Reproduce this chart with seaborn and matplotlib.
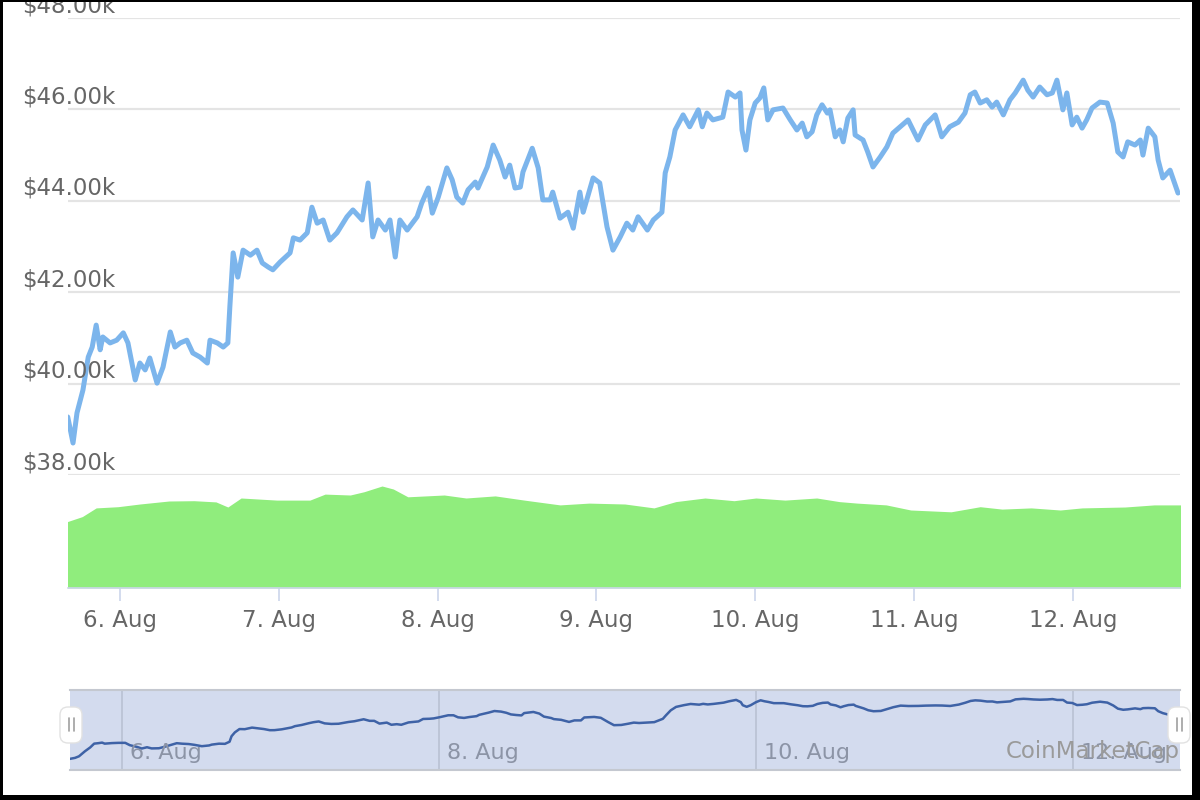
import pandas as pd
import seaborn as sns
import matplotlib.pyplot as plt
import matplotlib.dates as mdates
from matplotlib import transforms
from matplotlib.patches import FancyBboxPatch, Rectangle
from matplotlib.lines import Line2D

# price series: hours after 6 Aug 00:00, price in $k
price_hours = [-7.9, -7.1, -6.5, -5.6, -4.8, -4.2, -3.6, -3.0, -2.6, -1.5, -0.5, 0.5, 1.2, 2.3, 3.0, 3.8,
               4.5, 5.6, 6.5, 7.6, 8.3, 9.1, 10.1, 11.0, 12.1, 13.2, 13.6, 14.7, 15.6, 16.3, 16.6, 17.1,
               17.8, 18.6, 19.7, 20.7, 21.5, 22.4, 23.1, 24.2, 25.7, 26.2, 27.2, 28.3, 29.0, 29.8, 30.7,
               31.7, 32.8, 34.3, 35.2, 36.6, 37.5, 38.2, 39.0, 40.1, 40.8, 41.6, 42.3, 43.4, 44.9, 45.6,
               46.6, 47.2, 48.1, 49.4, 50.2, 50.9, 51.8, 52.6, 53.7, 54.1, 55.5, 56.4, 57.4, 58.2, 58.9,
               59.7, 60.5, 60.9, 62.3, 63.2, 63.9, 65.0, 65.4, 66.5, 67.7, 68.5, 69.5, 70.0, 71.5, 72.5,
               73.6, 74.5, 75.6, 76.6, 77.5, 78.3, 79.7, 80.6, 81.9, 82.4, 83.1, 83.9, 85.1, 86.1, 87.4,
               88.0, 88.7, 89.6, 91.1, 91.9, 93.0, 93.7, 94.0, 94.6, 95.2, 96.0, 96.7, 97.3, 97.9, 98.7,
               100.2, 101.3, 102.3, 103.1, 103.8, 104.6, 105.3, 106.1, 106.9, 107.3, 108.1, 108.8, 109.3,
               110.0, 110.8, 111.1, 112.3, 113.0, 113.8, 114.9, 115.9, 116.8, 117.9, 119.1, 120.6, 121.7,
               123.2, 124.2, 125.4, 126.7, 127.7, 128.5, 129.2, 130.0, 131.0, 131.8, 132.5, 133.5, 134.5,
               135.3, 136.5, 137.2, 138.0, 139.0, 140.1, 140.9, 141.6, 142.5, 143.1, 143.9, 144.6, 145.4,
               146.1, 146.9, 148.1, 149.2, 150.1, 150.8, 151.6, 152.3, 153.4, 154.2, 154.6, 155.4, 156.4,
               156.9, 157.6, 158.7, 159.9]
price_k = [39.27, 38.70, 39.36, 39.86, 40.58, 40.80, 41.28, 40.74, 41.02, 40.89, 40.95, 41.11, 40.89, 40.08,
           40.45, 40.30, 40.56, 40.01, 40.36, 41.13, 40.80, 40.89, 40.95, 40.67, 40.58, 40.45, 40.95, 40.89,
           40.80, 40.89, 41.68, 42.86, 42.33, 42.92, 42.81, 42.92, 42.64, 42.55, 42.49, 42.66, 42.86, 43.19,
           43.14, 43.30, 43.86, 43.51, 43.58, 43.14, 43.30, 43.65, 43.80, 43.58, 44.39, 43.21, 43.58, 43.36,
           43.58, 42.77, 43.58, 43.36, 43.65, 43.95, 44.28, 43.73, 44.08, 44.72, 44.46, 44.08, 43.95, 44.24,
           44.41, 44.28, 44.74, 45.22, 44.89, 44.52, 44.78, 44.28, 44.30, 44.63, 45.15, 44.72, 44.02, 44.02,
           44.19, 43.62, 43.75, 43.40, 44.19, 43.75, 44.50, 44.39, 43.43, 42.92, 43.21, 43.51, 43.36, 43.65,
           43.36, 43.58, 43.75, 44.61, 44.96, 45.55, 45.88, 45.62, 45.99, 45.62, 45.92, 45.77, 45.83, 46.38,
           46.27, 46.36, 45.55, 45.11, 45.77, 46.14, 46.25, 46.47, 45.77, 45.99, 46.03, 45.77, 45.55, 45.70,
           45.40, 45.51, 45.88, 46.10, 45.92, 45.99, 45.40, 45.55, 45.29, 45.81, 45.99, 45.44, 45.33, 45.07,
           44.74, 44.96, 45.18, 45.48, 45.62, 45.77, 45.33, 45.66, 45.88, 45.40, 45.62, 45.72, 45.92, 46.32,
           46.38, 46.14, 46.21, 46.05, 46.16, 45.88, 46.21, 46.36, 46.64, 46.42, 46.27, 46.49, 46.32, 46.36,
           46.64, 45.99, 46.36, 45.66, 45.83, 45.59, 45.77, 46.03, 46.16, 46.14, 45.70, 45.07, 44.96, 45.29,
           45.22, 45.33, 45.00, 45.59, 45.40, 44.89, 44.50, 44.67, 44.17]

# volume series (green area), $bn
vol_hours = [-8.0, -5.7, -3.6, -0.3, 3.0, 7.4, 11.2, 14.5, 16.3, 18.3, 23.7, 28.7, 31.0, 34.8, 36.9,
             39.6, 41.3, 43.5, 49.0, 52.3, 56.7, 61.1, 66.5, 70.9, 76.3, 80.7, 84.0, 88.4, 92.8, 96.1,
             100.5, 105.3, 108.7, 111.4, 115.8, 119.5, 125.6, 130.0, 133.3, 137.7, 142.1, 145.4, 151.9,
             156.3, 160.6]
vol_bn = [22.1, 23.8, 26.7, 27.1, 28.0, 29.0, 29.1, 28.7, 27.0, 30.0, 29.3, 29.3, 31.3, 31.0, 32.1,
          34.0, 33.0, 30.4, 31.0, 30.0, 30.7, 29.3, 27.7, 28.3, 28.0, 26.7, 28.8, 30.0, 29.1, 30.0,
          29.3, 30.0, 28.8, 28.3, 27.7, 26.0, 25.4, 27.1, 26.3, 26.7, 26.0, 26.7, 27.0, 27.7, 27.7]

y_ticks = [38, 40, 42, 44, 46, 48]
main_days = ['2021-08-06', '2021-08-07', '2021-08-08', '2021-08-09', '2021-08-10', '2021-08-11', '2021-08-12']
nav_days = ['2021-08-06', '2021-08-08', '2021-08-10', '2021-08-12']

t0 = pd.Timestamp('2021-08-06')
price = pd.DataFrame({'time': t0 + pd.to_timedelta(price_hours, unit='h'), 'price': price_k})
# navigator shows grouped (smoothed) data
price['nav'] = price['price'].rolling(3, center=True, min_periods=1).mean()
vol = pd.DataFrame({'time': t0 + pd.to_timedelta(vol_hours, unit='h'), 'volume': vol_bn})
x_lo = t0 - pd.Timedelta(hours=7.86)
x_hi = t0 + pd.Timedelta(hours=160.2)

sns.set_theme(style='white')
plt.rcParams['font.family'] = ['DejaVu Sans']

W, H = 1200, 800
fig = plt.figure(figsize=(12, 8), dpi=100)
fig.patch.set_facecolor('white')

# price panel
ax = fig.add_axes([68 / W, 1 - 475 / H, 1112 / W, 457 / H])
sns.lineplot(data=price, x='time', y='price', ax=ax, color='#7cb5ec', lw=3.6)
ax.set_xlim(x_lo, x_hi)
ax.set_ylim(38, 48)
ax.set_yticks(y_ticks)
ax.yaxis.grid(True, color='#e4e4e4', lw=1.6)
ax.tick_params(left=False, labelleft=False, bottom=False, labelbottom=False)
ax.set_xlabel('')
ax.set_ylabel('')
for s in ax.spines.values():
    s.set_visible(False)
lab_tr = transforms.blended_transform_factory(fig.transFigure, ax.transData)
for v in y_ticks:
    ax.text(22 / W, v + 0.13, f'${v:.2f}k', transform=lab_tr, ha='left', va='baseline',
            fontsize=16.5, color='#666666')

# volume panel
axv = fig.add_axes([68 / W, 1 - 588 / H, 1112 / W, 113 / H])
axv.fill_between(vol['time'], vol['volume'], color='#90ed7d', lw=0)
axv.set_xlim(x_lo, x_hi)
axv.set_ylim(0, 37.67)
axv.set_yticks([])
for s in ['top', 'left', 'right']:
    axv.spines[s].set_visible(False)
axv.spines['bottom'].set_color('#ccd6eb')
axv.spines['bottom'].set_linewidth(1.2)
axv.set_xticks(pd.to_datetime(main_days))
axv.xaxis.set_major_formatter(mdates.DateFormatter('%-d. %b'))
axv.tick_params(axis='x', bottom=True, length=9, width=1.2, color='#ccd6eb', pad=6,
                labelsize=16.5, labelcolor='#666666')

# navigator
axn = fig.add_axes([70 / W, 30 / H, 1110 / W, 80 / H])
axn.set_facecolor('#d3dbee')
sns.lineplot(data=price, x='time', y='nav', ax=axn, color='#3e62a6', lw=1.8)
axn.set_xlim(x_lo, x_hi)
axn.set_ylim(37.6, 47.57)
axn.set_xticks(pd.to_datetime(nav_days))
axn.set_yticks([])
axn.xaxis.grid(True, color='#b9c1d3', lw=1.2)
axn.tick_params(bottom=False, labelbottom=False)
axn.set_xlabel('')
axn.set_ylabel('')
for s in ['left', 'right']:
    axn.spines[s].set_visible(False)
for s in ['top', 'bottom']:
    axn.spines[s].set_color('#c4c8d0')
    axn.spines[s].set_linewidth(1.5)
nav_tr = transforms.offset_copy(transforms.blended_transform_factory(axn.transData, axn.transAxes),
                                fig=fig, x=8, y=0, units='dots')
for d in pd.to_datetime(nav_days):
    axn.text(mdates.date2num(d), 0.21, d.strftime('%-d. %b'), transform=nav_tr, ha='left', va='center',
             fontsize=16, color='#8c94a6')

# navigator handles
inch = fig.dpi_scale_trans
for cx in [71, 1179]:
    fig.add_artist(FancyBboxPatch(((cx - 11) / 100, (H - 743) / 100), 22 / 100, 36 / 100,
                                  boxstyle='round,pad=0,rounding_size=0.08', transform=inch,
                                  fc='white', ec='#e2e2e2', lw=1, zorder=10))
    for dx in [-2.5, 2.5]:
        fig.add_artist(Line2D([(cx + dx) / 100] * 2, [(H - 731) / 100, (H - 718) / 100],
                              transform=inch, color='#a0a0a0', lw=1.2, zorder=11))

fig.text(1180 / W, 1 - 758 / H, 'CoinMarketCap', ha='right', va='baseline', fontsize=16.5,
         color='#9a9a9a', zorder=12)

# outer frame
for x0, y0, w, h in [(0, 0, 2.5, H), (1192, 0, 8, H), (0, 0, W, 5), (0, H - 1.5, W, 1.5)]:
    fig.add_artist(Rectangle((x0 / W, y0 / H), w / W, h / H, transform=fig.transFigure,
                             color='black', lw=0, zorder=20))

fig.savefig('out.png', dpi=100)
